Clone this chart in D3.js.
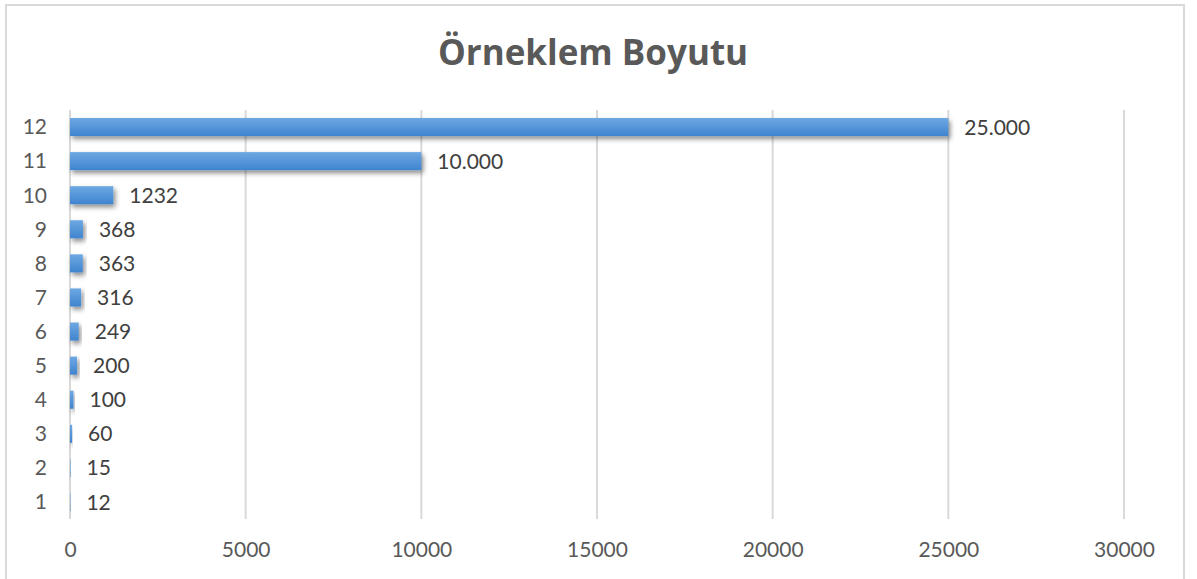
<!DOCTYPE html>
<html>
<head>
<meta charset="utf-8">
<script src="https://cdn.jsdelivr.net/npm/d3@7"></script>
<style>
  body { margin: 0; background: #fff; }
  text { font-family: Lato, "Open Sans", sans-serif; }
</style>
</head>
<body>
<div id="container"></div>
<script>
// chart size
let w = 1197;
let h = 579;

// data
let categories = ["1","2","3","4","5","6","7","8","9","10","11","12"];
let values = [12, 15, 60, 100, 200, 249, 316, 363, 368, 1232, 10000, 25000];
let valueLabels = ["12","15","60","100","200","249","316","363","368","1232","10.000","25.000"];
let xTicks = [0, 5000, 10000, 15000, 20000, 25000, 30000];
let title = "Örneklem Boyutu";

let viz = d3.select("#container")
  .append("svg")
    .attr("width", w)
    .attr("height", h)
    .style("background-color", "white");

// gradient + shadow for the bars
let defs = viz.append("defs");
let grad = defs.append("linearGradient")
  .attr("id", "barGrad")
  .attr("x1", 0).attr("y1", 0).attr("x2", 0).attr("y2", 1);
grad.append("stop").attr("offset", "0%").attr("stop-color", "#6da8e2");
grad.append("stop").attr("offset", "100%").attr("stop-color", "#3f84cf");

let shadow = defs.append("filter")
  .attr("id", "barShadow")
  .attr("x", "-30%").attr("y", "-50%").attr("width", "160%").attr("height", "250%");
shadow.append("feDropShadow")
  .attr("dx", 2).attr("dy", 3)
  .attr("stdDeviation", 2.5)
  .attr("flood-color", "#000")
  .attr("flood-opacity", 0.45);

// outer border
viz.append("rect")
  .attr("x", 6).attr("y", 5)
  .attr("width", 1178).attr("height", 580)
  .attr("fill", "none")
  .attr("stroke", "#d9d9d9")
  .attr("stroke-width", 2);

// title
viz.append("text")
  .attr("x", 593)
  .attr("y", 65)
  .attr("text-anchor", "middle")
  .style("font-family", "'Open Sans', sans-serif")
  .style("font-size", "35px")
  .style("font-weight", "bold")
  .style("fill", "#595959")
  .text(title);

// scales
let xScale = d3.scaleLinear().domain([0, 30000]).range([70, 1124]);
let yScale = d3.scaleBand().domain(categories.slice().reverse()).range([110, 519]).paddingInner(0.47).paddingOuter(0.235);

// gridlines
viz.selectAll(".grid").data(xTicks).enter()
  .append("line")
    .attr("class", "grid")
    .attr("x1", d => xScale(d)).attr("x2", d => xScale(d))
    .attr("y1", 110).attr("y2", 519)
    .attr("stroke", "#d9d9d9")
    .attr("stroke-width", 2);

// x axis (labels only)
let xAxis = d3.axisBottom(xScale).tickValues(xTicks).tickSize(0).tickPadding(0).tickFormat(d => d);
let xg = viz.append("g").attr("transform", "translate(0,557)").call(xAxis);
xg.select(".domain").remove();
xg.selectAll("text")
  .attr("dy", 0)
  .style("font-family", "Lato, sans-serif")
  .style("font-size", "21px")
  .style("fill", "#595959");

// y axis (labels only)
let yAxis = d3.axisLeft(yScale).tickSize(0).tickPadding(0);
let yg = viz.append("g").attr("transform", "translate(47,0)").call(yAxis);
yg.select(".domain").remove();
yg.selectAll("text")
  .attr("dy", "0.35em")
  .style("font-family", "Lato, sans-serif")
  .style("font-size", "21px")
  .style("fill", "#595959");

// bars
let rows = categories.map((c, i) => ({ cat: c, value: values[i], label: valueLabels[i] }));

let groups = viz.selectAll(".datagroup").data(rows).enter()
  .append("g")
    .attr("class", "datagroup");

groups.append("rect")
  .attr("x", xScale(0))
  .attr("y", d => yScale(d.cat))
  .attr("width", d => xScale(d.value) - xScale(0))
  .attr("height", yScale.bandwidth())
  .attr("fill", "url(#barGrad)")
  .attr("filter", "url(#barShadow)");

groups.append("text")
  .attr("x", d => xScale(d.value) + 16)
  .attr("y", d => yScale(d.cat) + yScale.bandwidth() / 2)
  .attr("dy", "0.36em")
  .style("font-size", "21px")
  .style("fill", "#404040")
  .text(d => d.label);
</script>
</body>
</html>
